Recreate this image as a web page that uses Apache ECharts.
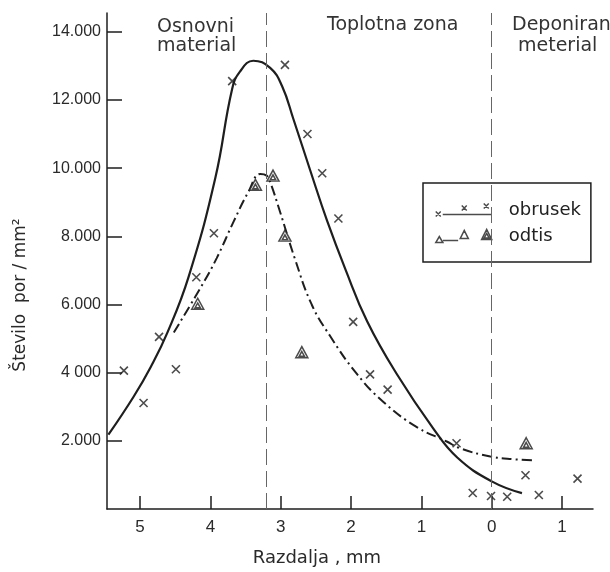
<!DOCTYPE html>
<html>
<head>
<meta charset="utf-8">
<script src="https://cdn.jsdelivr.net/npm/echarts@6/dist/echarts.min.js"></script>
<style>html,body{margin:0;padding:0;background:#fff}#c{width:610px;height:572px}</style>
</head>
<body>
<div id="c"></div>
<script>
// Distance (mm): positive = base material side (left), negative = deposited side (right)
var obrusekX = [5.23, 4.95, 4.73, 4.49, 4.20, 3.95, 3.69, 2.94, 2.62, 2.41, 2.18, 1.97, 1.73, 1.48, 0.50, 0.27, 0.01, -0.22, -0.48, -0.67, -1.22];
var obrusekY = [4060, 3110, 5050, 4100, 6800, 8090, 12550, 13030, 11000, 9850, 8520, 5490, 3950, 3500, 1930, 470, 380, 360, 990, 410, 890];
var odtisX = [4.18, 3.36, 3.11, 2.94, 2.70, -0.49];
var odtisY = [6020, 9510, 9780, 8020, 4600, 1930];
// fitted curves
var obrusekFitX = [5.45, 5.09, 4.85, 4.61, 4.31, 3.93, 3.69, 3.58, 3.39, 3.15, 2.98, 2.82, 2.58, 2.34, 2.08, 1.77, 1.35, 0.83, 0.49, 0.00, -0.43];
var obrusekFitY = [2180, 3300, 4160, 5180, 6810, 9710, 12330, 12830, 13150, 12940, 12400, 11440, 9930, 8450, 7030, 5500, 3960, 2360, 1510, 810, 465];
var odtisFitX = [4.52, 4.14, 3.91, 3.67, 3.46, 3.29, 3.20, 3.15, 3.01, 2.80, 2.56, 2.30, 1.92, 1.54, 1.07, 0.64, 0.45, 0.02, -0.31, -0.62];
var odtisFitY = [5180, 6490, 7360, 8430, 9300, 9830, 9780, 9590, 8720, 7350, 6000, 5080, 3970, 3140, 2410, 1980, 1780, 1540, 1460, 1430];
var zoneBounds = [3.2, 0];
var xTickValues = [5, 4, 3, 2, 1, 0, -1];
var xTickLabels = ['5', '4', '3', '2', '1', '0', '1'];
var yTickValues = [2000, 4000, 6000, 8000, 10000, 12000, 14000];
var yTickLabels = ['2.000', '4 000', '6.000', '8.000', '10.000', '12.000', '14.000'];
var seriesNames = ['obrusek', 'odtis'];

function zip(a, b) { return a.map(function (v, i) { return [v, b[i]]; }); }
var INK = '#1e1e1e';
var crossPath = 'path://M0 0L10 10M10 0L0 10';
var triPath = 'path://M6 0L12 10.4L0 10.4Z M6 4.5L8.6 9L3.4 9Z';
var legendIcons = [
  'path://M0 9L5 14M5 9L0 14M7 12L56 12M26 3L31 8M31 3L26 8M48 1L53 6M53 1L48 6',
  'path://M0 15L3.5 9L7 15Z M7 13L22 13 M24 11L28 3L32 11Z M45 12L50 2L55 12Z M47.5 10.5L50 6L52.5 10.5Z'
];

var chart = echarts.init(document.getElementById('c'), null, {renderer: 'canvas'});
chart.setOption({
  backgroundColor: '#fff',
  animation: false,
  grid: {left: 107, right: 17, top: 13, bottom: 59, containLabel: false},
  xAxis: {
    type: 'value', inverse: true, min: -1.44, max: 5.47,
    name: 'Razdalja , mm', nameLocation: 'middle', nameGap: 40,
    nameTextStyle: {fontFamily: 'DejaVu Sans', fontSize: 18, color: '#2a2a2a', padding: [0, 66, 0, 0]},
    axisLine: {onZero: false, lineStyle: {color: INK, width: 1.5}},
    axisTick: {inside: true, length: 13, lineStyle: {color: INK, width: 1.5}, customValues: xTickValues},
    axisLabel: {customValues: xTickValues, margin: 10, fontFamily: 'Liberation Sans', fontSize: 17, color: '#2a2a2a',
      formatter: function (v) { var i = xTickValues.indexOf(v); return i >= 0 ? xTickLabels[i] : ''; }},
    splitLine: {show: false}
  },
  yAxis: {
    type: 'value', min: 0, max: 14550,
    axisLine: {show: true, onZero: false, lineStyle: {color: INK, width: 1.5}},
    axisTick: {show: true, inside: true, length: 15, lineStyle: {color: INK, width: 1.5}, customValues: yTickValues},
    axisLabel: {customValues: yTickValues, margin: 6, fontFamily: 'Liberation Sans', fontSize: 16, color: '#2a2a2a',
      formatter: function (v) { var i = yTickValues.indexOf(v); return i >= 0 ? yTickLabels[i] : ''; }},
    splitLine: {show: false},
    name: 'Število  por / mm²', nameLocation: 'middle', nameGap: 78, nameRotate: 90,
    nameTextStyle: {fontFamily: 'DejaVu Sans', fontSize: 17, color: '#2a2a2a', padding: [0, 68, 0, 0]}
  },
  legend: {
    data: seriesNames.map(function (n, i) { return {name: n, icon: legendIcons[i]}; }),
    orient: 'vertical', left: 423, top: 183,
    padding: [18, 10, 17, 12], itemWidth: 56, itemHeight: 16, itemGap: 8,
    borderColor: INK, borderWidth: 1.5, backgroundColor: '#fff',
    itemStyle: {color: 'rgba(0,0,0,0)', borderColor: INK, borderWidth: 1.5},
    textStyle: {fontFamily: 'DejaVu Sans', fontSize: 18, color: '#222', padding: [0, 0, 0, 12]},
    selectedMode: false
  },
  graphic: [
    {type: 'text', left: 157, top: 18, style: {text: 'Osnovni', font: '19px "DejaVu Sans"', fill: '#333'}},
    {type: 'text', left: 157, top: 37, style: {text: 'material', font: '19px "DejaVu Sans"', fill: '#333'}},
    {type: 'text', left: 327, top: 16, style: {text: 'Toplotna zona', font: '19px "DejaVu Sans"', fill: '#333'}},
    {type: 'text', left: 512, top: 16, style: {text: 'Deponirani', font: '19px "DejaVu Sans"', fill: '#333'}},
    {type: 'text', left: 518, top: 37, style: {text: 'meterial', font: '19px "DejaVu Sans"', fill: '#333'}}
  ],
  series: [
    {
      name: 'obrusek fit', type: 'line', data: zip(obrusekFitX, obrusekFitY), smooth: 0.45,
      showSymbol: false, silent: true, lineStyle: {color: INK, width: 2.2}, z: 3,
      markLine: {
        silent: true, symbol: 'none', label: {show: false},
        lineStyle: {color: '#666', width: 1, type: [16, 6]},
        data: zoneBounds.map(function (v) { return {xAxis: v}; })
      }
    },
    {
      name: 'odtis fit', type: 'line', data: zip(odtisFitX, odtisFitY), smooth: 0.45,
      showSymbol: false, silent: true, lineStyle: {color: INK, width: 2, type: [10, 4, 2, 4]}, z: 3
    },
    {
      name: 'obrusek', type: 'scatter', data: zip(obrusekX, obrusekY), symbol: crossPath, symbolSize: 8,
      itemStyle: {color: 'rgba(0,0,0,0)', borderColor: INK, borderWidth: 1.6}, z: 4
    },
    {
      name: 'odtis', type: 'scatter', data: zip(odtisX, odtisY), symbol: triPath, symbolSize: [12, 11],
      itemStyle: {color: '#fff', borderColor: INK, borderWidth: 1.5}, z: 4
    }
  ]
});
</script>
</body>
</html>
